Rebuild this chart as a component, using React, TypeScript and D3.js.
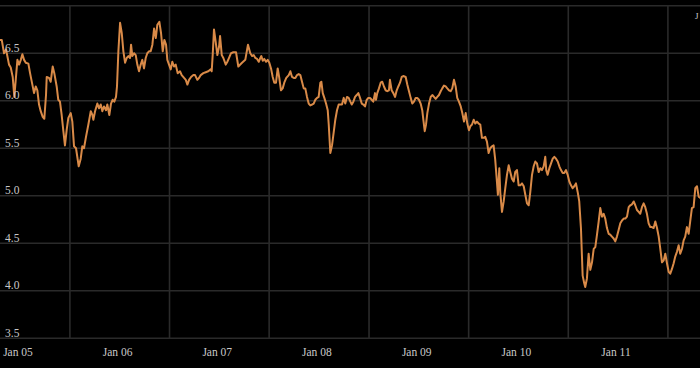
import * as d3 from 'd3';

// rate series: [decimal year, value]
const series: [number, number][] = [
  [2004.820, 6.64], [2004.837, 6.64], [2004.860, 6.50], [2004.880, 6.54], [2004.893, 6.47],
  [2004.910, 6.38], [2004.927, 6.35], [2004.947, 6.25], [2004.963, 6.04], [2004.994, 6.43],
  [2005.011, 6.38], [2005.028, 6.43], [2005.044, 6.49], [2005.061, 6.43], [2005.078, 6.40],
  [2005.104, 6.39], [2005.121, 6.29], [2005.144, 6.17], [2005.161, 6.08], [2005.178, 6.15],
  [2005.194, 6.11], [2005.211, 5.96], [2005.228, 5.89], [2005.248, 5.83], [2005.264, 5.81],
  [2005.281, 6.06], [2005.288, 6.25], [2005.311, 6.24], [2005.328, 6.20], [2005.348, 6.36],
  [2005.364, 6.29], [2005.388, 6.15], [2005.404, 6.01], [2005.421, 5.99], [2005.438, 5.85],
  [2005.454, 5.69], [2005.471, 5.53], [2005.488, 5.69], [2005.505, 5.82], [2005.529, 5.87],
  [2005.545, 5.78], [2005.562, 5.52], [2005.582, 5.50], [2005.609, 5.31], [2005.629, 5.39],
  [2005.645, 5.52], [2005.662, 5.50], [2005.682, 5.62], [2005.706, 5.75], [2005.730, 5.89],
  [2005.746, 5.85], [2005.756, 5.80], [2005.773, 5.89], [2005.796, 5.97], [2005.813, 5.92],
  [2005.830, 5.96], [2005.846, 5.89], [2005.863, 5.94], [2005.883, 5.90], [2005.896, 5.96],
  [2005.916, 5.85], [2005.933, 5.97], [2005.950, 6.01], [2005.966, 5.99], [2005.983, 6.04],
  [2005.993, 6.15], [2006.007, 6.52], [2006.024, 6.82], [2006.041, 6.71], [2006.057, 6.52],
  [2006.074, 6.40], [2006.091, 6.45], [2006.107, 6.47], [2006.124, 6.45], [2006.134, 6.59],
  [2006.147, 6.47], [2006.164, 6.50], [2006.181, 6.48], [2006.197, 6.38], [2006.214, 6.31],
  [2006.231, 6.38], [2006.247, 6.43], [2006.264, 6.34], [2006.281, 6.45], [2006.297, 6.50],
  [2006.314, 6.52], [2006.331, 6.52], [2006.348, 6.59], [2006.365, 6.76], [2006.382, 6.66],
  [2006.398, 6.80], [2006.418, 6.83], [2006.435, 6.71], [2006.452, 6.52], [2006.468, 6.64],
  [2006.485, 6.59], [2006.498, 6.43], [2006.515, 6.38], [2006.532, 6.33], [2006.548, 6.41],
  [2006.565, 6.36], [2006.582, 6.38], [2006.602, 6.29], [2006.625, 6.31], [2006.642, 6.27],
  [2006.666, 6.24], [2006.683, 6.22], [2006.699, 6.17], [2006.716, 6.22], [2006.736, 6.25],
  [2006.759, 6.27], [2006.776, 6.27], [2006.799, 6.22], [2006.816, 6.24], [2006.833, 6.27],
  [2006.859, 6.29], [2006.883, 6.30], [2006.909, 6.31], [2006.933, 6.33], [2006.943, 6.31],
  [2006.953, 6.48], [2006.966, 6.75], [2006.983, 6.62], [2007.000, 6.48], [2007.017, 6.57],
  [2007.027, 6.68], [2007.044, 6.48], [2007.060, 6.45], [2007.084, 6.38], [2007.100, 6.41],
  [2007.117, 6.45], [2007.137, 6.50], [2007.160, 6.51], [2007.187, 6.51], [2007.210, 6.36],
  [2007.247, 6.40], [2007.280, 6.43], [2007.307, 6.59], [2007.330, 6.50], [2007.348, 6.47],
  [2007.365, 6.48], [2007.381, 6.45], [2007.398, 6.44], [2007.415, 6.41], [2007.431, 6.45],
  [2007.441, 6.47], [2007.455, 6.42], [2007.471, 6.44], [2007.488, 6.41], [2007.505, 6.43],
  [2007.521, 6.40], [2007.538, 6.34], [2007.555, 6.25], [2007.571, 6.19], [2007.588, 6.19],
  [2007.605, 6.34], [2007.621, 6.24], [2007.638, 6.11], [2007.655, 6.13], [2007.671, 6.19],
  [2007.691, 6.24], [2007.716, 6.27], [2007.732, 6.31], [2007.749, 6.25], [2007.766, 6.24],
  [2007.782, 6.24], [2007.799, 6.27], [2007.816, 6.28], [2007.832, 6.27], [2007.849, 6.20],
  [2007.866, 6.13], [2007.882, 6.13], [2007.899, 6.04], [2007.916, 5.97], [2007.932, 5.95],
  [2007.949, 5.96], [2007.966, 5.97], [2007.982, 6.01], [2008.000, 6.03], [2008.016, 6.04],
  [2008.033, 6.19], [2008.043, 6.20], [2008.057, 6.08], [2008.073, 6.03], [2008.090, 5.97],
  [2008.107, 5.90], [2008.117, 5.75], [2008.133, 5.45], [2008.150, 5.53], [2008.167, 5.67],
  [2008.183, 5.80], [2008.200, 5.90], [2008.217, 5.96], [2008.233, 5.96], [2008.250, 5.96],
  [2008.267, 6.03], [2008.283, 5.97], [2008.300, 6.04], [2008.317, 6.03], [2008.334, 5.99],
  [2008.348, 5.96], [2008.364, 5.99], [2008.381, 6.04], [2008.398, 6.06], [2008.414, 6.08],
  [2008.431, 6.03], [2008.448, 5.97], [2008.464, 5.96], [2008.481, 5.94], [2008.498, 6.01],
  [2008.514, 6.03], [2008.531, 6.03], [2008.548, 6.01], [2008.564, 5.99], [2008.581, 6.08],
  [2008.591, 6.01], [2008.604, 6.08], [2008.621, 6.13], [2008.638, 6.19], [2008.654, 6.20],
  [2008.671, 6.15], [2008.688, 6.11], [2008.704, 6.10], [2008.721, 6.11], [2008.731, 6.22],
  [2008.748, 6.11], [2008.765, 6.08], [2008.782, 6.04], [2008.799, 6.11], [2008.815, 6.15],
  [2008.832, 6.19], [2008.849, 6.25], [2008.865, 6.26], [2008.889, 6.25], [2008.905, 6.17],
  [2008.922, 6.10], [2008.939, 6.03], [2008.955, 5.97], [2008.972, 5.99], [2008.989, 6.03],
  [2009.005, 6.03], [2009.022, 6.01], [2009.039, 5.97], [2009.055, 5.90], [2009.066, 5.80],
  [2009.080, 5.68], [2009.093, 5.75], [2009.106, 5.87], [2009.123, 5.97], [2009.140, 6.04],
  [2009.156, 6.06], [2009.173, 6.04], [2009.190, 6.02], [2009.206, 6.04], [2009.223, 6.06],
  [2009.240, 6.10], [2009.256, 6.13], [2009.273, 6.16], [2009.290, 6.15], [2009.306, 6.13],
  [2009.323, 6.11], [2009.340, 6.10], [2009.356, 6.13], [2009.373, 6.22], [2009.390, 6.15],
  [2009.406, 6.03], [2009.423, 5.99], [2009.441, 5.94], [2009.457, 5.87], [2009.474, 5.78],
  [2009.491, 5.87], [2009.507, 5.76], [2009.524, 5.69], [2009.537, 5.73], [2009.554, 5.75],
  [2009.571, 5.80], [2009.587, 5.76], [2009.604, 5.78], [2009.621, 5.76], [2009.637, 5.75],
  [2009.654, 5.61], [2009.671, 5.61], [2009.687, 5.62], [2009.704, 5.57], [2009.721, 5.45],
  [2009.737, 5.50], [2009.754, 5.52], [2009.771, 5.53], [2009.787, 5.38], [2009.804, 5.15],
  [2009.814, 5.01], [2009.828, 5.29], [2009.838, 5.03], [2009.855, 4.83], [2009.872, 4.94],
  [2009.888, 5.08], [2009.905, 5.22], [2009.922, 5.32], [2009.938, 5.25], [2009.955, 5.18],
  [2009.972, 5.15], [2009.988, 5.25], [2010.005, 5.27], [2010.022, 5.11], [2010.039, 5.11],
  [2010.056, 5.13], [2010.073, 5.10], [2010.089, 5.01], [2010.106, 4.92], [2010.123, 4.90],
  [2010.139, 5.04], [2010.156, 5.22], [2010.173, 5.31], [2010.189, 5.36], [2010.206, 5.34],
  [2010.223, 5.25], [2010.239, 5.29], [2010.256, 5.27], [2010.273, 5.31], [2010.289, 5.41],
  [2010.299, 5.27], [2010.313, 5.22], [2010.330, 5.29], [2010.347, 5.34], [2010.364, 5.39],
  [2010.380, 5.41], [2010.397, 5.39], [2010.414, 5.36], [2010.430, 5.31], [2010.447, 5.27],
  [2010.464, 5.24], [2010.480, 5.24], [2010.497, 5.27], [2010.514, 5.22], [2010.530, 5.15],
  [2010.547, 5.11], [2010.564, 5.08], [2010.580, 5.10], [2010.597, 5.13], [2010.614, 5.04],
  [2010.630, 4.94], [2010.647, 4.66], [2010.664, 4.16], [2010.680, 4.08], [2010.690, 4.04],
  [2010.707, 4.13], [2010.724, 4.39], [2010.741, 4.22], [2010.758, 4.30], [2010.775, 4.44],
  [2010.791, 4.46], [2010.808, 4.59], [2010.825, 4.73], [2010.841, 4.87], [2010.858, 4.78],
  [2010.875, 4.81], [2010.891, 4.76], [2010.908, 4.66], [2010.925, 4.60], [2010.941, 4.59],
  [2010.958, 4.57], [2010.975, 4.55], [2010.991, 4.52], [2011.008, 4.57], [2011.025, 4.64],
  [2011.042, 4.71], [2011.059, 4.74], [2011.076, 4.76], [2011.092, 4.76], [2011.109, 4.78],
  [2011.126, 4.88], [2011.142, 4.90], [2011.159, 4.91], [2011.176, 4.94], [2011.192, 4.90],
  [2011.209, 4.85], [2011.226, 4.83], [2011.242, 4.81], [2011.259, 4.88], [2011.276, 4.92],
  [2011.292, 4.88], [2011.309, 4.81], [2011.326, 4.71], [2011.343, 4.67], [2011.359, 4.67],
  [2011.376, 4.66], [2011.393, 4.73], [2011.410, 4.66], [2011.427, 4.57], [2011.443, 4.44],
  [2011.460, 4.30], [2011.477, 4.32], [2011.493, 4.39], [2011.510, 4.29], [2011.527, 4.20],
  [2011.543, 4.18], [2011.560, 4.23], [2011.577, 4.29], [2011.593, 4.36], [2011.610, 4.41],
  [2011.627, 4.48], [2011.643, 4.39], [2011.660, 4.44], [2011.677, 4.53], [2011.693, 4.57],
  [2011.710, 4.67], [2011.727, 4.60], [2011.743, 4.73], [2011.760, 4.87], [2011.777, 4.88],
  [2011.794, 5.08], [2011.811, 5.10], [2011.828, 4.99], [2011.841, 4.98],
];

const labelYears = [2005, 2006, 2007, 2008, 2009, 2010, 2011];
const yTicks = [3.5, 4.0, 4.5, 5.0, 5.5, 6.0, 6.5, 7.0];
const yLabelTicks = [3.5, 4.0, 4.5, 5.0, 5.5, 6.0, 6.5];
// the only visible glyph of the clipped label in the top-right corner
const cornerLabel = 'J';

const WIDTH = 700;
const HEIGHT = 368;
const YEAR_MS = 365.25 * 86400000;

const toDate = (t: number) => new Date(Date.UTC(2005, 0, 1) + (t - 2005) * YEAR_MS);

export default function App() {
  const x = d3.scaleUtc()
    .domain([new Date(Date.UTC(2005, 0, 1)), new Date(Date.UTC(2011, 0, 1))])
    .range([18, 616]);
  const y = d3.scaleLinear().domain([3.5, 7.0]).range([338.3, 5.7]);

  const line = d3.line<[number, number]>()
    .x((d) => x(toDate(d[0])))
    .y((d) => y(d[1]));

  // grid sits a little past mid-year between the January labels
  const gridX = labelYears.map((yr) => x(new Date(Date.UTC(yr, 6, 1))) + 2.5);
  const font = '"Liberation Serif", "Times New Roman", serif';

  return (
    <div style={{ position: 'fixed', inset: 0, background: '#000' }}>
      <svg width={WIDTH} height={HEIGHT} style={{ display: 'block' }}>
        <rect width={WIDTH} height={HEIGHT} fill="#000" />
        {yTicks.map((t) => (
          <line key={`h${t}`} x1={0} x2={WIDTH} y1={y(t)} y2={y(t)} stroke="#2a2a2a" strokeWidth={1.6} />
        ))}
        {gridX.map((gx, i) => (
          <line key={`v${i}`} x1={gx} x2={gx} y1={y(7.0)} y2={y(3.5)} stroke="#2a2a2a" strokeWidth={1.6} />
        ))}
        <path d={line(series) ?? undefined} fill="none" stroke="#d98a48" strokeWidth={2} strokeLinejoin="round" strokeLinecap="round" />
        {yLabelTicks.map((t) => (
          <text key={`yl${t}`} x={5} y={y(t) - 1.5} fill="#c8c8c8" fontSize={11.5} fontFamily={font}>
            {t.toFixed(1)}
          </text>
        ))}
        {labelYears.map((yr) => (
          <text key={`xl${yr}`} x={x(new Date(Date.UTC(yr, 0, 1)))} y={356} fill="#c8c8c8" fontSize={11.5} fontFamily={font} textAnchor="middle">
            {`Jan ${String(yr).slice(2)}`}
          </text>
        ))}
        <text x={695} y={19} fill="#c8c8c8" fontSize={9} fontFamily={font}>{cornerLabel}</text>
      </svg>
    </div>
  );
}
